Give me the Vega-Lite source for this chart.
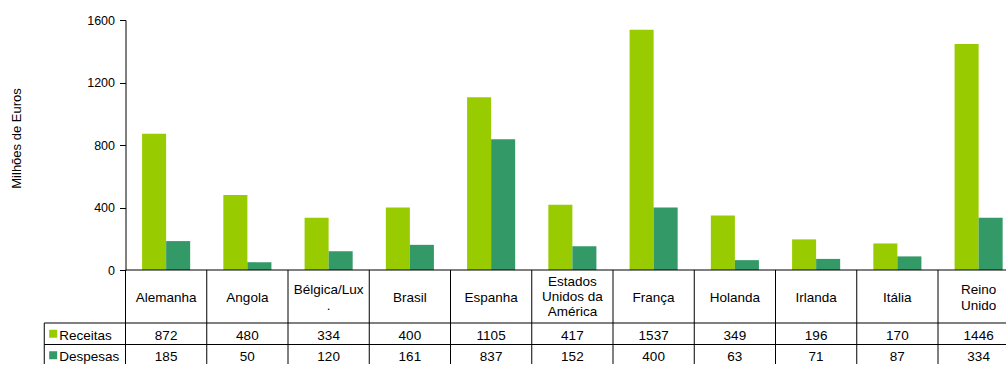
{
  "$schema": "https://vega.github.io/schema/vega-lite/v6.json",
  "padding": {"left": 9.5, "top": 14, "right": 0, "bottom": 0},
  "spacing": 0,
  "bounds": "flush",
  "config": {"view": {"stroke": null}, "font": "Liberation Sans"},
  "datasets": {
    "vals": [
      {"country": "Alemanha", "series": "Receitas", "value": 872},
      {"country": "Angola", "series": "Receitas", "value": 480},
      {"country": "Bélgica/Lux.", "series": "Receitas", "value": 334},
      {"country": "Brasil", "series": "Receitas", "value": 400},
      {"country": "Espanha", "series": "Receitas", "value": 1105},
      {"country": "Estados Unidos da América", "series": "Receitas", "value": 417},
      {"country": "França", "series": "Receitas", "value": 1537},
      {"country": "Holanda", "series": "Receitas", "value": 349},
      {"country": "Irlanda", "series": "Receitas", "value": 196},
      {"country": "Itália", "series": "Receitas", "value": 170},
      {"country": "Reino Unido", "series": "Receitas", "value": 1446},
      {"country": "Alemanha", "series": "Despesas", "value": 185},
      {"country": "Angola", "series": "Despesas", "value": 50},
      {"country": "Bélgica/Lux.", "series": "Despesas", "value": 120},
      {"country": "Brasil", "series": "Despesas", "value": 161},
      {"country": "Espanha", "series": "Despesas", "value": 837},
      {"country": "Estados Unidos da América", "series": "Despesas", "value": 152},
      {"country": "França", "series": "Despesas", "value": 400},
      {"country": "Holanda", "series": "Despesas", "value": 63},
      {"country": "Irlanda", "series": "Despesas", "value": 71},
      {"country": "Itália", "series": "Despesas", "value": 87},
      {"country": "Reino Unido", "series": "Despesas", "value": 334}
    ],
    "cols": [
      {"country": "Alemanha", "label": "Alemanha"},
      {"country": "Angola", "label": "Angola"},
      {"country": "Bélgica/Lux.", "label": "Bélgica/Lux\n."},
      {"country": "Brasil", "label": "Brasil"},
      {"country": "Espanha", "label": "Espanha"},
      {"country": "Estados Unidos da América", "label": "Estados\nUnidos da\nAmérica"},
      {"country": "França", "label": "França"},
      {"country": "Holanda", "label": "Holanda"},
      {"country": "Irlanda", "label": "Irlanda"},
      {"country": "Itália", "label": "Itália"},
      {"country": "Reino Unido", "label": "Reino\nUnido"}
    ],
    "allcols": [
      {"country": "legenda"},
      {"country": "Alemanha"},
      {"country": "Angola"},
      {"country": "Bélgica/Lux."},
      {"country": "Brasil"},
      {"country": "Espanha"},
      {"country": "Estados Unidos da América"},
      {"country": "França"},
      {"country": "Holanda"},
      {"country": "Irlanda"},
      {"country": "Itália"},
      {"country": "Reino Unido"}
    ],
    "series": [{"series": "Receitas"}, {"series": "Despesas"}]
  },
  "vconcat": [
    {
      "width": 882,
      "height": 250,
      "layer": [
        {
          "data": {"name": "vals"},
          "mark": {"type": "bar"},
          "encoding": {
            "x": {
              "field": "country", "type": "nominal",
              "scale": {"domain": ["Alemanha", "Angola", "Bélgica/Lux.", "Brasil", "Espanha", "Estados Unidos da América", "França", "Holanda", "Irlanda", "Itália", "Reino Unido"], "range": [0, 893.75], "paddingInner": 0, "paddingOuter": 0},
              "axis": null
            },
            "xOffset": {
              "field": "series", "type": "nominal",
              "scale": {"domain": ["Receitas", "Despesas"], "paddingInner": 0, "paddingOuter": 0.69}
            },
            "y": {
              "field": "value", "type": "quantitative",
              "scale": {"domain": [0, 1600], "nice": false},
              "axis": {
                "values": [0, 400, 800, 1200, 1600], "format": "d", "grid": false,
                "domainColor": "black", "tickColor": "black", "tickSize": 6,
                "labelPadding": 5, "labelFontSize": 12.5, "labelColor": "black",
                "title": "Milhões de Euros", "titleFontSize": 13, "titleFontWeight": "normal",
                "titleColor": "black", "titlePadding": 63.5, "titleY": 118
              }
            },
            "color": {
              "field": "series", "type": "nominal",
              "scale": {"domain": ["Receitas", "Despesas"], "range": ["#99cc00", "#339966"]},
              "legend": null
            }
          }
        },
        {
          "data": {"values": [{"base": 0}]},
          "mark": {"type": "rule", "color": "black", "strokeWidth": 1},
          "encoding": {"y": {"field": "base", "type": "quantitative"}}
        }
      ]
    },
    {
      "width": 882,
      "height": 53,
      "data": {"name": "cols"},
      "layer": [
        {
          "mark": {"type": "rule", "color": "black"},
          "encoding": {
            "x": {
              "field": "country", "type": "nominal", "bandPosition": 0,
              "scale": {"domain": ["Alemanha", "Angola", "Bélgica/Lux.", "Brasil", "Espanha", "Estados Unidos da América", "França", "Holanda", "Irlanda", "Itália", "Reino Unido"], "range": [0, 893.75], "paddingInner": 0, "paddingOuter": 0},
              "axis": null
            }
          }
        },
        {
          "transform": [{"filter": "length(split(datum.label, '\\n')) == 1"}],
          "mark": {"type": "text", "lineBreak": "\n", "lineHeight": 15, "fontSize": 13.5, "baseline": "middle", "color": "black", "dy": 1},
          "encoding": {
            "x": {"field": "country", "type": "nominal", "axis": null},
            "text": {"field": "label"}
          }
        },
        {
          "transform": [{"filter": "length(split(datum.label, '\\n')) == 2"}],
          "mark": {"type": "text", "lineBreak": "\n", "lineHeight": 16, "fontSize": 13.5, "baseline": "middle", "color": "black", "dy": -7},
          "encoding": {
            "x": {"field": "country", "type": "nominal", "axis": null},
            "text": {"field": "label"}
          }
        },
        {
          "transform": [{"filter": "length(split(datum.label, '\\n')) == 3"}],
          "mark": {"type": "text", "lineBreak": "\n", "lineHeight": 15, "fontSize": 13.5, "baseline": "middle", "color": "black", "dy": -14.5},
          "encoding": {
            "x": {"field": "country", "type": "nominal", "axis": null},
            "text": {"field": "label"}
          }
        }
      ]
    },
    {
      "width": 882,
      "height": 41,
      "layer": [
        {
          "data": {"name": "allcols"},
          "mark": {"type": "rule", "color": "black"},
          "encoding": {
            "x": {
              "field": "country", "type": "nominal", "bandPosition": 0,
              "scale": {"domain": ["legenda", "Alemanha", "Angola", "Bélgica/Lux.", "Brasil", "Espanha", "Estados Unidos da América", "França", "Holanda", "Irlanda", "Itália", "Reino Unido"], "range": [-81.25, 893.75], "paddingInner": 0, "paddingOuter": 0},
              "axis": null
            }
          }
        },
        {
          "data": {"name": "series"},
          "mark": {"type": "rule", "color": "black"},
          "encoding": {
            "x": {"datum": "legenda", "type": "nominal", "bandPosition": 0},
            "x2": {"value": "width"},
            "y": {
              "field": "series", "type": "nominal", "bandPosition": 0,
              "scale": {"domain": ["Receitas", "Despesas"], "range": [0, 43], "paddingInner": 0, "paddingOuter": 0},
              "axis": null
            }
          }
        },
        {
          "data": {"name": "vals"},
          "mark": {"type": "text", "fontSize": 13.5, "baseline": "middle", "color": "black", "dy": 2},
          "encoding": {
            "x": {"field": "country", "type": "nominal"},
            "y": {"field": "series", "type": "nominal"},
            "text": {"field": "value", "type": "quantitative"}
          }
        },
        {
          "data": {"name": "series"},
          "mark": {"type": "point", "shape": "square", "filled": true, "size": 64, "opacity": 1},
          "encoding": {
            "x": {"datum": "legenda", "type": "nominal", "bandPosition": 0.11},
            "y": {"field": "series", "type": "nominal"},
            "color": {
              "field": "series", "type": "nominal",
              "scale": {"domain": ["Receitas", "Despesas"], "range": ["#99cc00", "#339966"]},
              "legend": null
            }
          }
        },
        {
          "data": {"name": "series"},
          "mark": {"type": "text", "fontSize": 13.5, "baseline": "middle", "align": "left", "color": "black", "dy": 2},
          "encoding": {
            "x": {"datum": "legenda", "type": "nominal", "bandPosition": 0.185},
            "y": {"field": "series", "type": "nominal"},
            "text": {"field": "series"}
          }
        }
      ]
    }
  ]
}
